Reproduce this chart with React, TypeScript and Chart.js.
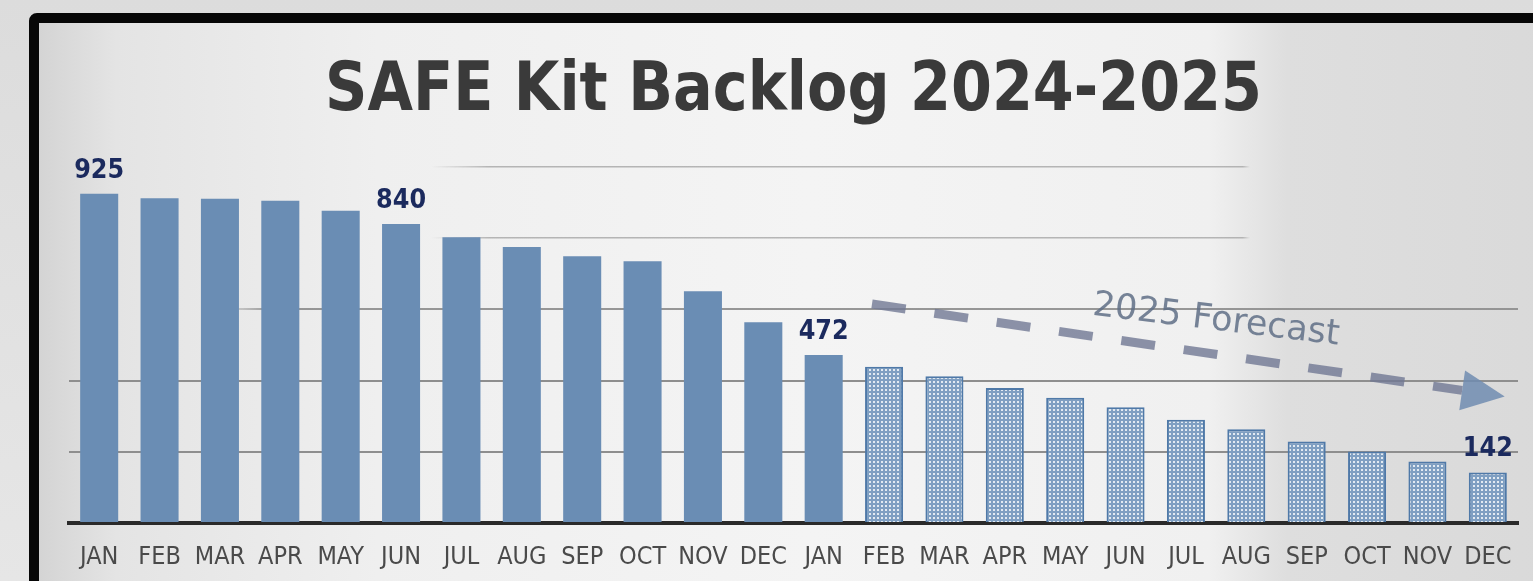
import React, { useEffect, useRef } from "react";
import { Chart, registerables } from "chart.js";

Chart.register(...registerables);

// ---- data ----
const monthLabels = [
  "JAN", "FEB", "MAR", "APR", "MAY", "JUN", "JUL", "AUG", "SEP", "OCT", "NOV", "DEC",
  "JAN", "FEB", "MAR", "APR", "MAY", "JUN", "JUL", "AUG", "SEP", "OCT", "NOV", "DEC",
];
const actualBacklog = [925, 912, 911, 905, 877, 840, 803, 775, 749, 735, 651, 564, 472];
const forecastBacklog = [439, 412, 379, 352, 325, 290, 263, 229, 201, 173, 142];
const labelledIndices = [0, 5, 12, 23];
const chartTitle = "SAFE Kit Backlog 2024-2025";
const forecastText = "2025 Forecast";
const yMin = 0;
const yMax = 1000;
const yStep = 200;
// forecast arrow, in (category index, value) space
const arrowFrom = { index: 12.8, value: 615 };
const arrowTo = { index: 23.28, value: 355 };
const forecastTextAt = { index: 18.48, value: 543 };

const actualSeries = monthLabels.map((_, i) => (i < actualBacklog.length ? actualBacklog[i] : null));
const forecastSeries = monthLabels.map((_, i) =>
  i >= actualBacklog.length ? forecastBacklog[i - actualBacklog.length] : null
);

function makePattern(): CanvasPattern | string {
  const c = document.createElement("canvas");
  c.width = 4;
  c.height = 4;
  const g = c.getContext("2d");
  if (!g) return "#a7bed7";
  g.fillStyle = "#7f9fc2";
  g.fillRect(0, 0, 4, 4);
  g.fillStyle = "#e2eaf2";
  g.fillRect(1, 1, 2, 2);
  const p = g.createPattern(c, "repeat");
  return p || "#a7bed7";
}

const overlayPlugin = {
  id: "overlay",
  afterDatasetsDraw(chart: any) {
    const { ctx, chartArea, scales } = chart;
    const ys = scales.y;
    const xAt = (idx: number) => {
      const w = (chartArea.right - chartArea.left) / monthLabels.length;
      return chartArea.left + (idx + 0.5) * w;
    };
    ctx.save();
    // title
    ctx.fillStyle = "#3a3a3a";
    ctx.font = "bold 68px 'DejaVu Sans', sans-serif";
    ctx.textAlign = "center";
    ctx.textBaseline = "alphabetic";
    ctx.fillText(chartTitle, (chartArea.left + chartArea.right) / 2, 110, 937);

    // value labels
    ctx.fillStyle = "#1b2a5e";
    ctx.font = "bold 27px 'DejaVu Sans Condensed', 'DejaVu Sans', sans-serif";
    labelledIndices.forEach((i) => {
      const dsIndex = i < actualBacklog.length ? 0 : 1;
      const el = chart.getDatasetMeta(dsIndex).data[i];
      const v = dsIndex === 0 ? actualSeries[i] : forecastSeries[i];
      if (!el || v == null) return;
      ctx.fillText(String(v), el.x, el.y - 16, 50);
    });

    // forecast arrow
    const x1 = xAt(arrowFrom.index);
    const y1 = ys.getPixelForValue(arrowFrom.value);
    const x2 = xAt(arrowTo.index);
    const y2 = ys.getPixelForValue(arrowTo.value);
    const len = Math.hypot(x2 - x1, y2 - y1);
    const ux = (x2 - x1) / len;
    const uy = (y2 - y1) / len;
    const headLen = 43;
    const headHalf = 20;
    const bx = x2 - ux * headLen;
    const by = y2 - uy * headLen;
    ctx.strokeStyle = "rgba(112,120,148,0.8)";
    ctx.lineWidth = 9;
    ctx.lineCap = "butt";
    ctx.setLineDash([34, 29]);
    ctx.beginPath();
    ctx.moveTo(x1, y1);
    ctx.lineTo(bx, by);
    ctx.stroke();
    ctx.setLineDash([]);
    ctx.fillStyle = "rgba(112,140,176,0.85)";
    ctx.beginPath();
    ctx.moveTo(x2, y2);
    ctx.lineTo(bx - uy * headHalf, by + ux * headHalf);
    ctx.lineTo(bx + uy * headHalf, by - ux * headHalf);
    ctx.closePath();
    ctx.fill();

    // forecast text
    const tx = xAt(forecastTextAt.index);
    const ty = ys.getPixelForValue(forecastTextAt.value);
    ctx.translate(tx, ty);
    ctx.rotate((6.9 * Math.PI) / 180);
    ctx.font = "35px 'DejaVu Sans', sans-serif";
    ctx.fillStyle = "rgba(95,110,134,0.85)";
    ctx.textAlign = "center";
    ctx.textBaseline = "alphabetic";
    ctx.fillText(forecastText, 0, 0);
    ctx.restore();
  },
};

export default function App() {
  const canvasRef = useRef<HTMLCanvasElement | null>(null);

  useEffect(() => {
    document.body.style.margin = "0";
    document.body.style.overflow = "hidden";
    const canvas = canvasRef.current;
    if (!canvas) return;
    const pattern = makePattern();

    const gridColor = (ctx: any) => {
      const v = ctx.tick ? ctx.tick.value : 0;
      const chart = ctx.chart;
      const area = chart.chartArea;
      if (!area || v === 0) return "rgba(0,0,0,0)";
      if (v <= 400) return "#8e8e8e";
      const c = chart.ctx;
      const g = c.createLinearGradient(area.left, 0, area.right, 0);
      if (v === 600) {
        g.addColorStop(0, "rgba(140,140,140,0)");
        g.addColorStop(0.1, "rgba(140,140,140,0)");
        g.addColorStop(0.14, "rgba(140,140,140,0.9)");
        g.addColorStop(1, "rgba(140,140,140,0.9)");
      } else {
        g.addColorStop(0, "rgba(170,170,170,0)");
        g.addColorStop(0.25, "rgba(170,170,170,0)");
        g.addColorStop(0.29, "rgba(170,170,170,0.85)");
        g.addColorStop(0.81, "rgba(170,170,170,0.85)");
        g.addColorStop(0.815, "rgba(170,170,170,0)");
        g.addColorStop(1, "rgba(170,170,170,0)");
      }
      return g;
    };

    const chart = new Chart(canvas, {
      type: "bar",
      data: {
        labels: monthLabels,
        datasets: [
          {
            label: "Backlog",
            data: actualSeries,
            backgroundColor: "#6a8db4",
            borderWidth: 0,
            grouped: false,
            categoryPercentage: 1,
            barPercentage: 0.63,
          } as any,
          {
            label: "2025 Forecast",
            data: forecastSeries,
            backgroundColor: pattern,
            borderColor: "#4f79a8",
            borderWidth: 2,
            grouped: false,
            categoryPercentage: 1,
            barPercentage: 0.63,
          } as any,
        ],
      },
      options: {
        responsive: false,
        animation: false,
        devicePixelRatio: 1,
        layout: { padding: { left: 69, right: 15, top: 167, bottom: 8 } },
        plugins: {
          legend: { display: false },
          tooltip: { enabled: false },
          title: { display: false },
        },
        scales: {
          x: {
            z: 1,
            grid: { display: false, drawTicks: false },
            border: { display: true, color: "#2a2a2a", width: 4 },
            ticks: {
              color: "#4a4a4a",
              padding: 19,
              maxRotation: 0,
              autoSkip: false,
              font: { family: "'DejaVu Sans Condensed', 'DejaVu Sans', sans-serif", size: 25 },
            },
          },
          y: {
            min: yMin,
            max: yMax,
            ticks: { display: false, stepSize: yStep },
            border: { display: false },
            grid: {
              drawTicks: false,
              color: gridColor,
              lineWidth: (c: any) => (c.tick && c.tick.value <= 600 ? 2 : 1.5),
            },
          },
        },
      },
      plugins: [overlayPlugin],
    });
    return () => chart.destroy();
  }, []);

  return (
    <div
      style={{
        position: "absolute",
        left: 0,
        top: 0,
        width: 1533,
        height: 581,
        overflow: "hidden",
        background: "linear-gradient(180deg, #dcdcdc 0%, #e6e6e6 100%)",
      }}
    >
      <div
        style={{
          position: "absolute",
          left: 29,
          top: 13,
          width: 1560,
          height: 640,
          border: "10px solid #070707",
          borderRadius: 8,
          boxSizing: "border-box",
          background:
            "linear-gradient(90deg, #d4d4d4 0%, #e4e4e4 5%, #efefef 22%, #f4f4f4 50%, #f0f0f0 76%, #dedede 81%, #d9d9d9 100%)",
        }}
      />
      <canvas
        ref={canvasRef}
        width={1533}
        height={599}
        style={{ position: "absolute", left: 0, top: 0, width: 1533, height: 599 }}
      />
    </div>
  );
}
